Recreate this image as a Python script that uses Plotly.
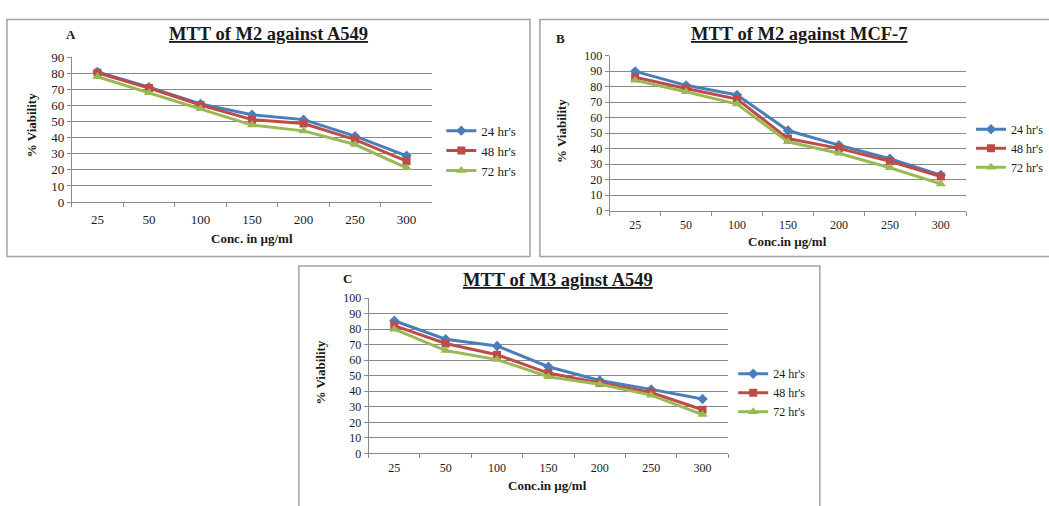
import plotly.graph_objects as go

# ---------------- data ----------------
conc = ["25", "50", "100", "150", "200", "250", "300"]
series_names = ["24 hr's", "48 hr's", "72 hr's"]

a_24 = [81.0, 71.5, 61.0, 54.3, 51.3, 41.0, 28.8]
a_48 = [80.5, 71.0, 60.4, 51.3, 48.9, 38.9, 25.4]
a_72 = [78.0, 68.0, 58.0, 47.9, 44.3, 35.8, 21.3]

b_24 = [89.8, 80.8, 74.6, 51.7, 42.3, 33.5, 23.0]
b_48 = [86.0, 78.7, 71.9, 46.5, 40.2, 31.9, 22.0]
b_72 = [84.0, 76.7, 68.7, 44.4, 37.0, 27.7, 17.3]

c_24 = [85.4, 73.5, 69.2, 55.8, 46.9, 41.2, 35.0]
c_48 = [82.3, 70.8, 63.5, 51.7, 45.4, 39.2, 28.1]
c_72 = [80.0, 66.2, 60.4, 49.4, 44.5, 37.5, 25.0]

titles = ["MTT of M2 against A549", "MTT of M2 against MCF-7", "MTT of M3 aginst A549"]
letters = ["A", "B", "C"]
xtitles = ["Conc. in µg/ml", "Conc.in µg/ml", "Conc.in µg/ml"]
ytitle = "% Viability"

# ---------------- layout helpers ----------------
W, H = 1049, 506
def fx(p):
    return p / W
def fy(p):
    return 1 - p / H

colors = ["#4A7EBB", "#BE4B48", "#98B954"]
symbols = ["diamond", "square", "triangle-up"]
msizes = [8, 8, 9]
FONT = "Liberation Serif"
TXT = "#1a1a1a"
GRID = "#8a8a8a"

panels = [
    dict(data=[a_24, a_48, a_72], xd=(72, 434), yd=(201, 52), ymax=90,
         tfs=13, ax="x", ay="y", leg="legend", legx=443, legy=112, lfs=13,
         title=(270, 28), letter=(71, 28), xt=(253, 239), yt=(32, 122), standoff=5),
    dict(data=[b_24, b_48, b_72], xd=(612, 970), yd=(210, 50), ymax=100,
         tfs=12, ax="x2", ay="y2", leg="legend2", legx=975, legy=111, lfs=12,
         title=(803, 28), letter=(563, 32), xt=(791, 242), yt=(563, 128), standoff=3),
    dict(data=[c_24, c_48, c_72], xd=(370, 731), yd=(460, 300), ymax=100,
         tfs=12, ax="x3", ay="y3", leg="legend3", legx=736, legy=363, lfs=12,
         title=(560, 281), letter=(349, 280), xt=(550, 493), yt=(322, 377), standoff=3),
]

fig = go.Figure()
layout = dict(
    width=W, height=H, autosize=False,
    margin=dict(l=0, r=0, t=0, b=0),
    paper_bgcolor="white", plot_bgcolor="white",
    font=dict(family=FONT, color=TXT),
    annotations=[], shapes=[],
)

# panel borders
for (x0, y0, x1, y1) in [(7, 13, 532, 257), (542, 13, 1060, 257), (300, 267, 823, 530)]:
    layout["shapes"].append(dict(type="rect", xref="paper", yref="paper",
                                 x0=fx(x0), x1=fx(x1), y0=fy(y1), y1=fy(y0),
                                 line=dict(color="#A3A3A3", width=1.5),
                                 fillcolor="rgba(0,0,0,0)", layer="below"))

for i, p in enumerate(panels):
    for s in range(3):
        fig.add_trace(go.Scatter(
            x=conc, y=p["data"][s], name=series_names[s],
            mode="lines+markers", xaxis=p["ax"], yaxis=p["ay"],
            legend=p["leg"],
            line=dict(color=colors[s], width=3),
            marker=dict(symbol=symbols[s], size=msizes[s], color=colors[s],
                        line=dict(width=0)),
            showlegend=True,
        ))
    xkey = "xaxis" + ("" if i == 0 else str(i + 1))
    ykey = "yaxis" + ("" if i == 0 else str(i + 1))
    layout[xkey] = dict(
        domain=[fx(p["xd"][0]), fx(p["xd"][1])], anchor=p["ay"],
        type="category", categoryorder="array", categoryarray=conc,
        range=[-0.5, 6.5], tickson="boundaries",
        ticks="outside", ticklen=4, tickcolor=GRID, tickwidth=1,
        showline=True, linecolor=GRID, linewidth=1, showgrid=False,
        tickfont=dict(family=FONT, size=p["tfs"], color=TXT),
        ticklabelstandoff=p["standoff"], fixedrange=True,
    )
    layout[ykey] = dict(
        domain=[fy(p["yd"][0]), fy(p["yd"][1])], anchor=p["ax"],
        range=[0, p["ymax"]], tick0=0, dtick=10,
        ticks="outside", ticklen=4, tickcolor=GRID, tickwidth=1,
        showline=True, linecolor=GRID, linewidth=1,
        showgrid=True, gridcolor=GRID, gridwidth=1, zeroline=False,
        tickfont=dict(family=FONT, size=p["tfs"], color=TXT), fixedrange=True,
    )
    layout[p["leg"]] = dict(
        x=fx(p["legx"]), y=fy(p["legy"]), xanchor="left", yanchor="top",
        xref="paper", yref="paper", bgcolor="rgba(0,0,0,0)",
        font=dict(family=FONT, size=p["lfs"], color=TXT),
        itemwidth=30, tracegroupgap=0,
    )
    ann = layout["annotations"]
    ann.append(dict(text="<b><u>" + titles[i] + "</u></b>", x=fx(p["title"][0]), y=fy(p["title"][1]),
                    xref="paper", yref="paper", showarrow=False, xanchor="center", yanchor="middle",
                    font=dict(family=FONT, size=18.5, color=TXT)))
    ann.append(dict(text="<b>" + letters[i] + "</b>", x=fx(p["letter"][0]), y=fy(p["letter"][1]),
                    xref="paper", yref="paper", showarrow=False, xanchor="center", yanchor="middle",
                    font=dict(family=FONT, size=13, color=TXT)))
    ann.append(dict(text="<b>" + xtitles[i] + "</b>", x=fx(p["xt"][0]), y=fy(p["xt"][1]),
                    xref="paper", yref="paper", showarrow=False, xanchor="center", yanchor="middle",
                    font=dict(family=FONT, size=13, color=TXT)))
    ann.append(dict(text="<b>" + ytitle + "</b>", x=fx(p["yt"][0]), y=fy(p["yt"][1]),
                    xref="paper", yref="paper", showarrow=False, xanchor="center", yanchor="middle",
                    textangle=-90, font=dict(family=FONT, size=13, color=TXT)))

fig.update_layout(**layout)
fig.write_html(
    "out.html",
    config={"displayModeBar": False, "staticPlot": True},
    post_script=("document.documentElement.style.margin='0px';"
                 "document.documentElement.style.overflow='hidden';"
                 "document.body.style.margin='0px';"
                 "document.body.style.overflow='hidden';"),
)
